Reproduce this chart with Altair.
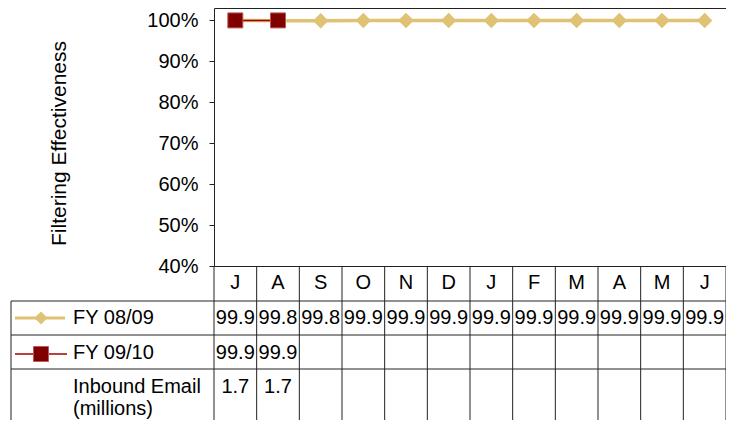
import altair as alt
import pandas as pd

# ---- data ----
months = ["J", "A", "S", "O", "N", "D", "J", "F", "M", "A", "M", "J"]
fy0809 = [99.9, 99.8, 99.8, 99.9, 99.9, 99.9, 99.9, 99.9, 99.9, 99.9, 99.9, 99.9]
fy0910 = [99.9, 99.9]
inbound_email = [1.7, 1.7]
y_ticks = [0.4, 0.5, 0.6, 0.7, 0.8, 0.9, 1.0]
series_names = ["FY 08/09", "FY 09/10"]
email_label = ["Inbound Email", "(millions)"]

FONT = "Liberation Sans"
FS = 20
GOLD = "#DFC273"
RED = "#800000"
LINE = "#222222"

W, H = 512, 258          # plot area
BOTTOM = 412             # canvas bottom in plot coordinates

n = len(months)
df_m = pd.DataFrame({"xc": [i + 0.5 for i in range(n)], "m": months})
df_a = pd.DataFrame({"xc": [i + 0.5 for i in range(n)], "v": fy0809,
                     "p": [v / 100 for v in fy0809]})
df_b = pd.DataFrame({"xc": [i + 0.5 for i in range(len(fy0910))], "v": fy0910,
                     "p": [v / 100 for v in fy0910]})
df_e = pd.DataFrame({"xc": [i + 0.5 for i in range(len(inbound_email))], "v": inbound_email})
df_grid = pd.DataFrame({"b": list(range(n + 1))})
df_one = pd.DataFrame({"k": [0]})

xs = alt.Scale(domain=[0, n], nice=False, zero=False)
ys = alt.Scale(domain=[0.4, 0.4 + 258 / 410], nice=False, zero=False)

X = alt.X("xc:Q", scale=xs, axis=None)
Y = alt.Y("p:Q", scale=ys, title="Filtering Effectiveness",
          axis=alt.Axis(values=y_ticks, format=".0%", grid=False, domain=False,
                        tickSize=5, tickColor=LINE, labelFont=FONT, labelFontSize=FS,
                        labelColor="black", labelPadding=11,
                        titleFont=FONT, titleFontSize=21, titleFontWeight="normal",
                        titleColor="black", titleX=-149, titleY=135,
                        titleAlign="center", titleBaseline="alphabetic", titleAngle=270))

# lines + markers
line_a = alt.Chart(df_a).mark_line(color=GOLD, strokeWidth=3.5).encode(x=X, y=Y)
pts_a = alt.Chart(df_a).mark_point(shape="diamond", filled=True, size=240,
                                   color=GOLD, opacity=1).encode(x=X, y=alt.Y("p:Q"))
line_b = alt.Chart(df_b).mark_line(color="#A00000", strokeWidth=1.5).encode(x=X, y=alt.Y("p:Q"))
pts_b = alt.Chart(df_b).mark_point(shape="square", filled=True, size=225, fill=RED,
                                   stroke="#B85A5A", strokeWidth=1, opacity=1).encode(x=X, y=alt.Y("p:Q"))

# table grid
vgrid = alt.Chart(df_grid).mark_rule(color=LINE, strokeWidth=1).encode(
    x=alt.X("b:Q", scale=xs, axis=None), y=alt.value(H), y2=alt.value(BOTTOM))


def hline(yv):
    return alt.Chart(df_one).mark_rule(color=LINE, strokeWidth=1).encode(
        x=alt.value(-203), x2=alt.value(W), y=alt.value(yv))


left_border = alt.Chart(df_one).mark_rule(color=LINE, strokeWidth=1).encode(
    x=alt.value(-203), y=alt.value(293), y2=alt.value(BOTTOM))

txt = dict(font=FONT, fontSize=FS, color="black", baseline="middle")

t_months = alt.Chart(df_m).mark_text(**txt).encode(x=X, y=alt.value(275), text="m:N")
t_a = alt.Chart(df_a).mark_text(**txt).encode(x=X, y=alt.value(310), text=alt.Text("v:Q", format=".1f"))
t_b = alt.Chart(df_b).mark_text(**txt).encode(x=X, y=alt.value(345), text=alt.Text("v:Q", format=".1f"))
t_e = alt.Chart(df_e).mark_text(**txt).encode(x=X, y=alt.value(379), text=alt.Text("v:Q", format=".1f"))

# row headers (legend keys)
key_a_line = alt.Chart(df_one).mark_rule(color=GOLD, strokeWidth=3).encode(
    x=alt.value(-199), x2=alt.value(-149), y=alt.value(310))
key_a_pt = alt.Chart(df_one).mark_point(shape="diamond", filled=True, size=170, color=GOLD,
                                        opacity=1).encode(x=alt.value(-173), y=alt.value(310))
key_b_line = alt.Chart(df_one).mark_rule(color="#A00000", strokeWidth=1.5).encode(
    x=alt.value(-199), x2=alt.value(-147), y=alt.value(346))
key_b_pt = alt.Chart(df_one).mark_point(shape="square", filled=True, size=225, fill=RED,
                                        stroke="#B85A5A", strokeWidth=1, opacity=1).encode(
    x=alt.value(-173), y=alt.value(346))
key_a_txt = alt.Chart(df_one).mark_text(align="left", text=series_names[0], **txt).encode(
    x=alt.value(-141), y=alt.value(310))
key_b_txt = alt.Chart(df_one).mark_text(align="left", text=series_names[1], **txt).encode(
    x=alt.value(-141), y=alt.value(345))
key_e1 = alt.Chart(df_one).mark_text(align="left", text=email_label[0], **txt).encode(
    x=alt.value(-141), y=alt.value(379))
key_e2 = alt.Chart(df_one).mark_text(align="left", text=email_label[1], **txt).encode(
    x=alt.value(-141), y=alt.value(401))

chart = alt.layer(
    line_a, pts_a, line_b, pts_b,
    vgrid, hline(293), hline(327), hline(361), left_border,
    t_months, t_a, t_b, t_e,
    key_a_line, key_a_pt, key_b_line, key_b_pt, key_a_txt, key_b_txt, key_e1, key_e2,
).properties(
    width=W, height=H,
    autosize=alt.AutoSizeParams(type="none"),
    padding={"left": 206, "top": 0, "right": 0, "bottom": BOTTOM - H},
).configure_view(stroke=LINE, strokeWidth=1)

chart.save("out.html", embed_options={"renderer": "svg", "actions": False})
